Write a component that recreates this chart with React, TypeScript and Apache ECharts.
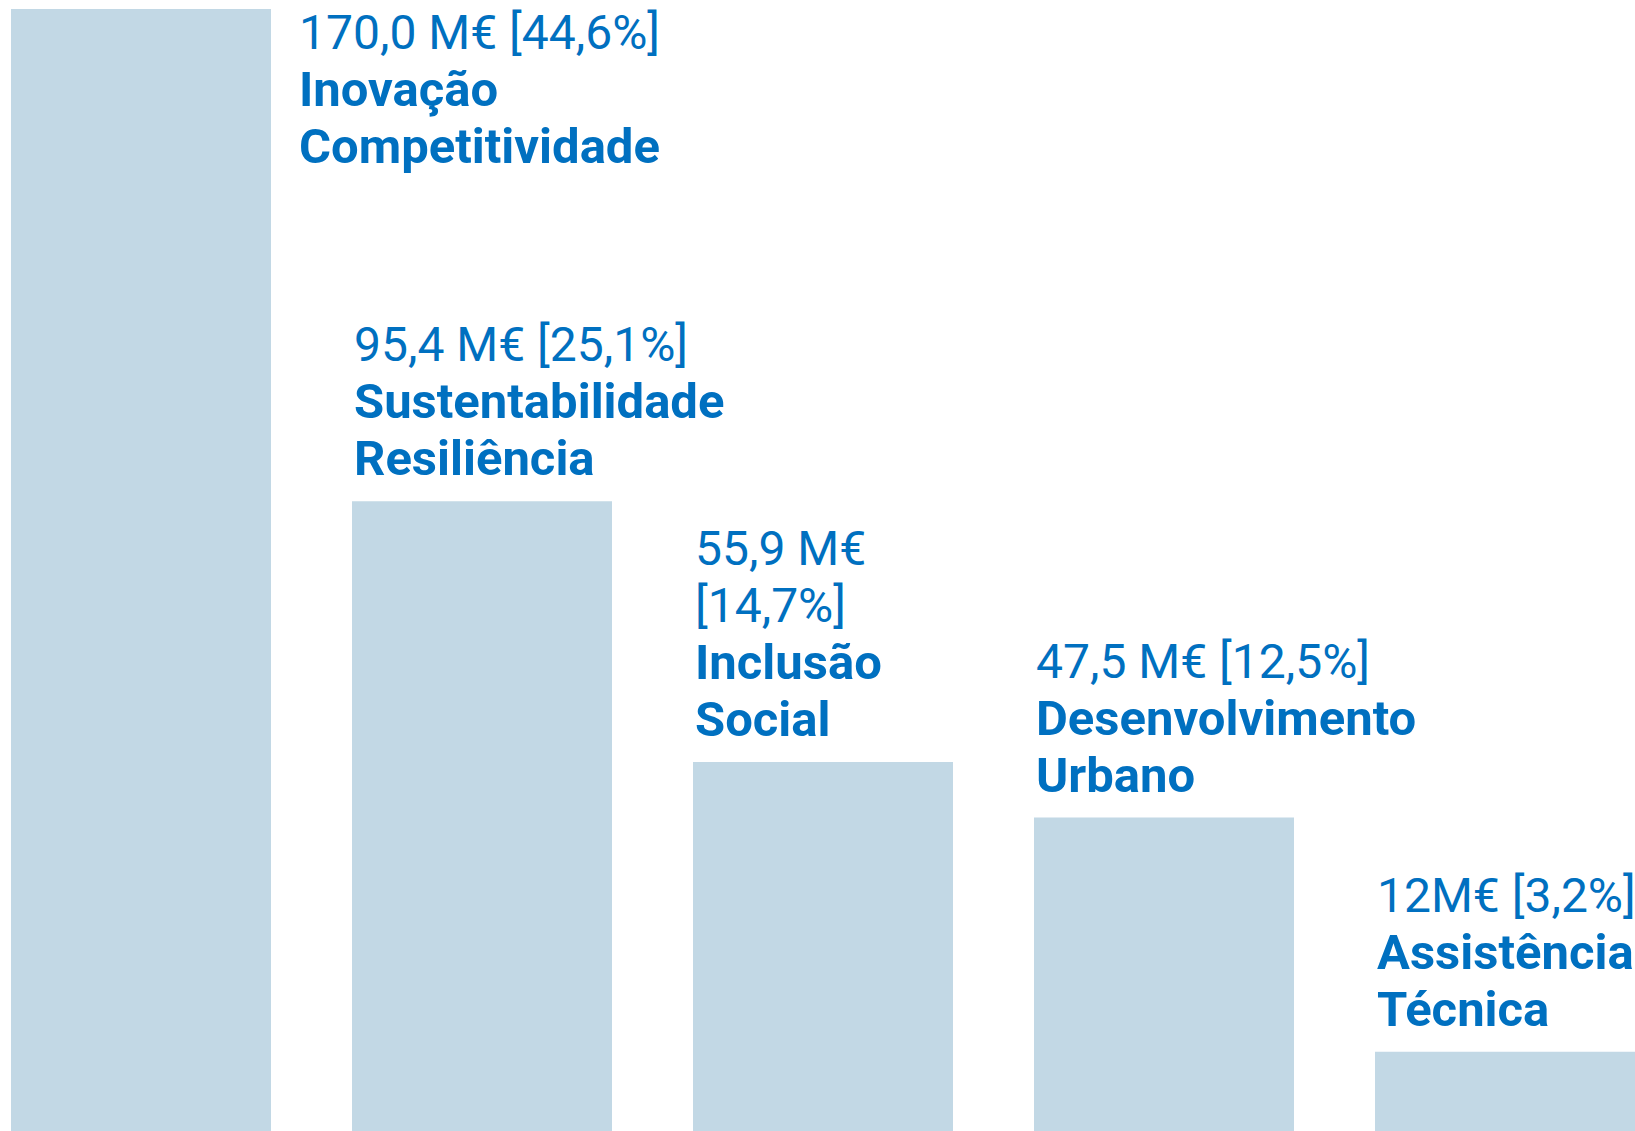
import React, { useEffect, useRef } from "react";
import * as echarts from "echarts";

const categories = [
  "Inovação Competitividade",
  "Sustentabilidade Resiliência",
  "Inclusão Social",
  "Desenvolvimento Urbano",
  "Assistência Técnica",
];
const values = [170.0, 95.4, 55.9, 47.5, 12];
const valueLabels = [
  "170,0 M€ [44,6%]",
  "95,4 M€ [25,1%]",
  "55,9 M€\n[14,7%]",
  "47,5 M€ [12,5%]",
  "12M€ [3,2%]",
];
const nameLines = [
  ["Inovação", "Competitividade"],
  ["Sustentabilidade", "Resiliência"],
  ["Inclusão", "Social"],
  ["Desenvolvimento", "Urbano"],
  ["Assistência", "Técnica"],
];

const BLUE = "#0070C0";
const BAR = "#C2D8E5";
const FONT = "Roboto";

export default function App() {
  const ref = useRef<HTMLDivElement>(null);
  useEffect(() => {
    if (!ref.current) return;
    const chart = echarts.init(ref.current, null, { renderer: "svg" });
    const fmt = (i: number) => {
      const v = valueLabels[i]
        .split("\n")
        .map((s) => `{v|${s}}`)
        .join("\n");
      const n = nameLines[i].map((s) => `{n|${s}}`).join("\n");
      return v + "\n" + n;
    };
    const data = values.map((v, i) => ({
      name: categories[i],
      value: [i, v],
      label:
        i === 0
          ? { position: [288, -5], align: "left", verticalAlign: "top" }
          : { position: [2, -14], align: "left", verticalAlign: "bottom" },
    }));
    // category slots are 341px wide in a 1635px plot; first slot centre at 141px
    const slot = 341;
    const xMin = -141 / slot;
    const xMax = xMin + 1635 / slot;
    chart.setOption({
      animation: false,
      backgroundColor: "#ffffff",
      grid: { left: 0, right: 0, top: 9, bottom: 0, containLabel: false },
      xAxis: { type: "value", min: xMin, max: xMax, show: false },
      yAxis: { type: "value", min: 0, max: 170, show: false },
      series: [
        {
          type: "bar",
          data,
          barWidth: 260,
          clip: false,
          itemStyle: { color: BAR },
          label: {
            show: true,
            formatter: (p: any) => fmt(p.dataIndex),
            rich: {
              v: {
                fontFamily: FONT,
                fontSize: 48,
                fontWeight: "normal",
                color: BLUE,
                lineHeight: 57,
              },
              n: {
                fontFamily: FONT,
                fontSize: 49,
                fontWeight: "bold",
                color: BLUE,
                lineHeight: 57,
              },
            },
          },
        },
      ],
    });
    return () => chart.dispose();
  }, []);
  return (
    <div
      ref={ref}
      style={{ position: "absolute", left: 0, top: 0, width: 1635, height: 1131 }}
    />
  );
}
